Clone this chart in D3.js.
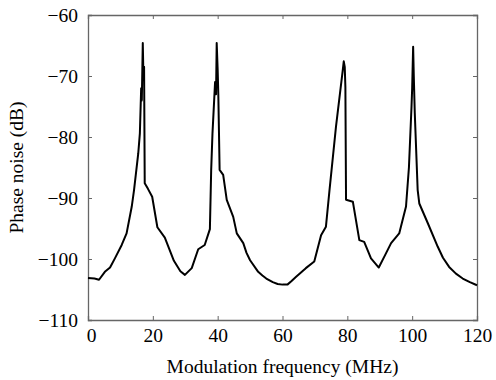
<!DOCTYPE html>
<html>
<head>
<meta charset="utf-8">
<script src="https://cdn.jsdelivr.net/npm/d3@7"></script>
<style>
    body { margin: 0; background: #fff; }
    text { font-family: "Liberation Serif", "Times New Roman", serif; fill: #000; }
</style>
</head>
<body>
<div id="chart"></div>
<script>
// modulation frequency (MHz)
var freq = [0, 2, 3.4, 5.2, 6.8, 8.3, 10.4, 11.9, 13.5, 14.2, 15.5, 16.0, 16.4, 16.6, 16.9, 17.1, 17.3, 17.5,
    18.5, 19.8, 21.4, 23.7, 26.5, 28.5, 29.9, 32.0, 34.0, 36.0, 37.6, 38.0, 38.4, 39.2, 39.5, 39.7, 40.0, 40.2, 40.6,
    41.7, 42.8, 44.8, 45.9, 47.9, 48.9, 50.0, 52.5, 53.8, 55.0, 57.0, 58.5, 60.0, 61.5, 62.8, 64.2, 65.7, 67.2, 69.8, 71.9, 73.4, 74.5, 76.5, 78.6,
    78.9, 79.2, 79.4, 79.6, 81.7, 83.7, 85.2, 87.3, 89.7, 91.8, 93.5, 96.0, 98.1, 99.0, 99.8, 100.0, 100.3, 100.5,
    100.8, 101.7, 102.2, 104.8, 107.9, 109.5, 111.4, 113.5, 115.6, 117.8, 120];
// phase noise (dB)
var noise = [-103.1, -103.2, -103.4, -102.1, -101.4, -99.9, -97.7, -95.8, -91.4, -88.7, -82.7, -79.4, -72, -74, -64.6, -70, -68.5, -87.6,
    -88.5, -89.8, -94.8, -96.5, -100.3, -102, -102.6, -101.5, -98.4, -97.7, -95.1, -85.4, -79.4, -71, -73, -64.6, -69, -73, -85.4,
    -86.2, -90.3, -93.1, -95.8, -97.4, -99.0, -100.2, -102.1, -102.7, -103.2, -103.8, -104.1, -104.2, -104.2, -103.6, -102.9, -102.2, -101.5, -100.4, -96.1, -94.7, -88.7, -78.3, -69,
    -67.6, -68.5, -71.8, -90.3, -90.6, -96.9, -97.2, -99.9, -101.4, -99.2, -97.4, -95.8, -91.4, -85, -75, -72, -65.2, -70,
    -76, -88.7, -90.9, -94.1, -98.0, -99.8, -101.3, -102.4, -103.2, -103.8, -104.3];

var xTicks = [0, 20, 40, 60, 80, 100, 120];
var yTicks = [-110, -100, -90, -80, -70, -60];

function init() {
    var w = 496, h = 380;
    var left = 88, right = 477, top = 15, bottom = 320;

    var data = freq.map(function (f, i) { return { f: f, v: noise[i] }; });

    var svg = d3.select("#chart").append("svg")
        .attr("width", w)
        .attr("height", h);

    var xScale = d3.scaleLinear().domain([0, 120]).range([left, right]);
    var yScale = d3.scaleLinear().domain([-110, -60]).range([bottom, top]);

    var fmt = d3.format("d");

    var xAxis = svg.append("g")
        .attr("transform", "translate(0," + bottom + ")")
        .call(d3.axisBottom(xScale).tickValues(xTicks).tickSize(-4).tickFormat(fmt));
    var xTop = svg.append("g")
        .attr("transform", "translate(0," + top + ")")
        .call(d3.axisTop(xScale).tickValues(xTicks).tickSize(-4).tickFormat(""));
    var yAxis = svg.append("g")
        .attr("transform", "translate(" + left + ",0)")
        .call(d3.axisLeft(yScale).tickValues(yTicks).tickSize(-4).tickFormat(fmt));
    var yRight = svg.append("g")
        .attr("transform", "translate(" + right + ",0)")
        .call(d3.axisRight(yScale).tickValues(yTicks).tickSize(-4).tickFormat(""));

    [xAxis, xTop, yAxis, yRight].forEach(function (g) {
        g.select(".domain").attr("stroke", "#666").attr("stroke-width", 1.3);
        g.selectAll(".tick line").attr("stroke", "#666").attr("stroke-width", 1);
        g.selectAll(".tick text")
            .style("font-family", '"Liberation Serif", serif')
            .style("font-size", "19.5px")
            .attr("fill", "#000");
    });

    xAxis.selectAll(".tick text").attr("y", 22).attr("dy", 0)
        .attr("dx", function (d) { return d === 0 ? 3 : 0; });
    yAxis.selectAll(".tick text").attr("x", -10);

    var line = d3.line()
        .x(function (d) { return xScale(d.f); })
        .y(function (d) { return yScale(d.v); });

    svg.append("path")
        .datum(data)
        .attr("d", line)
        .attr("fill", "none")
        .attr("stroke", "#000")
        .attr("stroke-width", 2)
        .attr("stroke-linejoin", "round");

    svg.append("text")
        .attr("x", 282.5)
        .attr("y", 373)
        .attr("text-anchor", "middle")
        .style("font-size", "19.5px")
        .text("Modulation frequency (MHz)");

    svg.append("text")
        .attr("transform", "translate(23,167.5) rotate(-90)")
        .attr("text-anchor", "middle")
        .style("font-size", "19.5px")
        .text("Phase noise (dB)");
}

window.onload = init;
</script>
</body>
</html>
